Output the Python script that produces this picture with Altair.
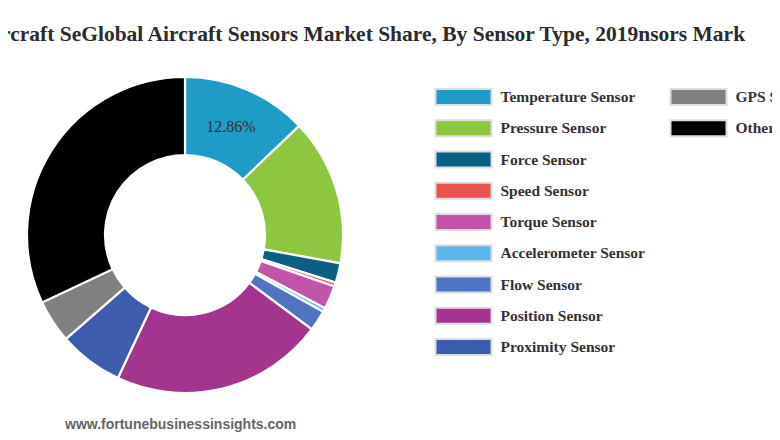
import altair as alt
import pandas as pd

sensors = ["Temperature Sensor", "Pressure Sensor", "Force Sensor", "Speed Sensor",
           "Torque Sensor", "Accelerometer Sensor", "Flow Sensor", "Position Sensor",
           "Proximity Sensor", "GPS Sensor", "Others"]
shares = [12.86, 15.0, 2.0, 0.4, 2.4, 0.4, 2.1, 21.8, 6.6, 4.4, 32.0]
colors = ["#1f9bc8", "#8dc63f", "#0b5f82", "#e8534f", "#c154a9", "#5cb8e6",
          "#4f74c2", "#a4358e", "#3c5dad", "#808080", "#000000"]
title_text = "rcraft SeGlobal Aircraft Sensors Market Share, By Sensor Type, 2019nsors Mark"
footer_text = "www.fortunebusinessinsights.com"

df = pd.DataFrame({"sensor": sensors, "share": shares, "idx": list(range(len(sensors)))})
df["col"] = df["idx"] // 9
df["row"] = df["idx"] % 9
df["label"] = [f"{v:.2f}%" if i == 0 else "" for i, v in enumerate(shares)]

color = alt.Color("sensor:N", scale=alt.Scale(domain=sensors, range=colors), legend=None)
base = alt.Chart(df)

cx, cy = 177, 227
donut = base.mark_arc(innerRadius=80, outerRadius=158, stroke="white", strokeWidth=2.2).encode(
    theta=alt.Theta("share:Q", stack=True),
    order=alt.Order("idx:Q"),
    color=color,
    x=alt.value(cx), y=alt.value(cy),
)
pct = base.mark_text(radius=117, font="Liberation Serif", fontSize=16, color="#333333").encode(
    theta=alt.Theta("share:Q", stack=True),
    order=alt.Order("idx:Q"),
    text="label:N",
    x=alt.value(cx), y=alt.value(cy),
)

xs = alt.X("col:Q", scale=alt.Scale(domain=[0, 1], range=[455.5, 690.5]), axis=None)
ys = alt.Y("row:Q", scale=alt.Scale(domain=[0, 8], range=[89, 339]), axis=None)
swatch = base.mark_rect(width=56, height=16, stroke="#dddddd", strokeWidth=2).encode(
    x=xs, y=ys, color=color)
names = base.mark_text(align="left", baseline="middle", dx=37, font="Liberation Serif",
                       fontWeight="bold", fontSize=15.5, color="#333333").encode(
    x=xs, y=ys, text="sensor:N")

title = alt.Chart(pd.DataFrame({"t": [title_text]})).mark_text(
    align="left", baseline="middle", font="Liberation Serif", fontWeight="bold",
    fontSize=21.5, color="#2b2b2b").encode(x=alt.value(-7), y=alt.value(27), text="t:N")
footer = alt.Chart(pd.DataFrame({"t": [footer_text]})).mark_text(
    align="left", baseline="middle", font="Liberation Sans", fontWeight="bold",
    fontSize=14, color="#666666").encode(x=alt.value(57), y=alt.value(417), text="t:N")

chart = alt.layer(donut, pct, swatch, names, title, footer).properties(
    width=764, height=424, autosize=alt.AutoSizeParams(type="none"), padding=0
).configure_view(stroke=None)

chart.save("out.html", embed_options={"renderer": "svg", "actions": False})
